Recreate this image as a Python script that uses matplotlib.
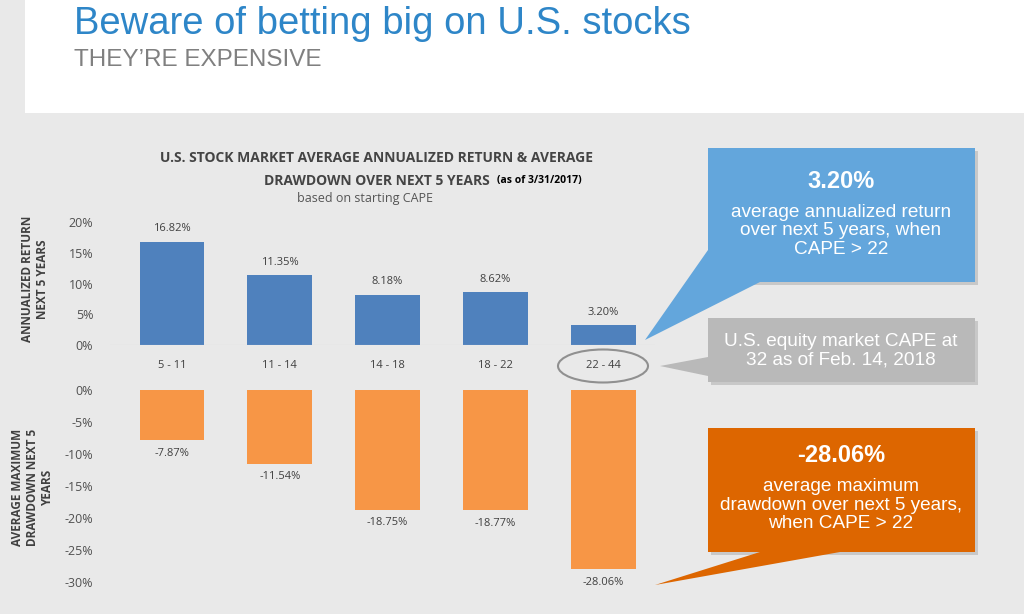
import matplotlib.pyplot as plt
from matplotlib.patches import Rectangle, Polygon, Ellipse

categories = ["5 - 11", "11 - 14", "14 - 18", "18 - 22", "22 - 44"]
returns = [16.82, 11.35, 8.18, 8.62, 3.20]
drawdowns = [-7.87, -11.54, -18.75, -18.77, -28.06]

W, H = 1024, 614
fig = plt.figure(figsize=(W / 100, H / 100), dpi=100)
fig.patch.set_facecolor("#e9e9e9")
plt.rcParams["font.family"] = ["Open Sans", "DejaVu Sans"]


def box(x0, y0, x1, y1):
    # pixel box (top-left origin) -> figure fraction rect
    return [x0 / W, 1 - y1 / H, (x1 - x0) / W, (y1 - y0) / H]


def fx(x):
    return x / W


def fy(y):
    return 1 - y / H


# white header
fig.patches.append(Rectangle((fx(25), fy(113)), fx(999), 113 / H, transform=fig.transFigure,
                             facecolor="white", edgecolor="none", zorder=0))
fig.text(fx(74), fy(24), "Beware of betting big on U.S. stocks", fontsize=27.5, color="#2e86c8",
         va="center", family=["Liberation Sans", "DejaVu Sans"])
fig.text(fx(74), fy(60), "THEY\u2019RE EXPENSIVE", fontsize=17.5, color="#808080",
         va="center", family=["Liberation Sans", "DejaVu Sans"])

# chart titles
fig.text(fx(377), fy(158), "U.S. STOCK MARKET AVERAGE ANNUALIZED RETURN & AVERAGE",
         fontsize=10, weight="bold", color="#444444", ha="center", va="center")
fig.text(fx(490), fy(181), "DRAWDOWN OVER NEXT 5 YEARS", fontsize=10, weight="bold",
         color="#444444", ha="right", va="center")
fig.text(fx(497), fy(181), "(as of 3/31/2017)", fontsize=7.5, weight="bold",
         color="black", ha="left", va="center")
fig.text(fx(365), fy(199), "based on starting CAPE", fontsize=9, color="#555555",
         ha="center", va="center")

x = list(range(len(categories)))
xl = (-0.575, 4.48)

ax1 = fig.add_axes(box(110, 213, 655, 345))
ax1.bar(x, returns, width=0.6, color="#4f81bd")
ax1.set_xlim(xl)
ax1.set_ylim(0, 21.5)
ax1.set_yticks([0, 5, 10, 15, 20])
ax1.set_yticklabels(["0%", "5%", "10%", "15%", "20%"])
for i, v in enumerate(returns):
    ax1.text(i, v + 1.2, f"{v:.2f}%", ha="center", va="bottom", fontsize=8, color="#404040")
ax1.set_ylabel("ANNUALIZED RETURN\nNEXT 5 YEARS", fontsize=8.5, weight="bold", color="#404040",
               labelpad=14)
ax1.set_xticks([])

ax2 = fig.add_axes(box(110, 387, 655, 588))
ax2.bar(x, drawdowns, width=0.6, color="#f79646")
ax2.set_xlim(xl)
ax2.set_ylim(-31, 0.5)
ax2.set_yticks([0, -5, -10, -15, -20, -25, -30])
ax2.set_yticklabels(["0%", "-5%", "-10%", "-15%", "-20%", "-25%", "-30%"])
for i, v in enumerate(drawdowns):
    ax2.text(i, v - 1.2, f"{v:.2f}%", ha="center", va="top", fontsize=8, color="#404040")
ax2.set_ylabel("AVERAGE MAXIMUM\nDRAWDOWN NEXT 5\nYEARS", fontsize=8.5, weight="bold", color="#404040",
               labelpad=8)
ax2.set_xticks([])

for ax in (ax1, ax2):
    ax.set_facecolor("none")
    for s in ax.spines.values():
        s.set_visible(False)
    ax.tick_params(length=0, labelsize=9, labelcolor="#505050", pad=12)
ax1.axhline(0, color="#d0d0d0", lw=0.8)

# category labels between panels
for i, c in enumerate(categories):
    xp = 110 + (i - xl[0]) / (xl[1] - xl[0]) * 545
    fig.text(fx(xp), fy(366), c, ha="center", va="center", fontsize=8, color="#404040")
fig.patches.append(Ellipse((fx(603), fy(366)), 90 / W, 33 / H, transform=fig.transFigure,
                           facecolor="none", edgecolor="#909090", lw=1.5))


def callout(x0, y0, x1, y1, tri, color):
    fig.patches.append(Rectangle((fx(x0 + 3), fy(y1 + 3)), (x1 - x0) / W, (y1 - y0) / H,
                                 transform=fig.transFigure, facecolor="#c8c8c8",
                                 edgecolor="none", zorder=1))
    fig.patches.append(Polygon([(fx(a), fy(b)) for a, b in tri], closed=True,
                               transform=fig.transFigure, facecolor=color, edgecolor="none", zorder=2))
    fig.patches.append(Rectangle((fx(x0), fy(y1)), (x1 - x0) / W, (y1 - y0) / H,
                                 transform=fig.transFigure, facecolor=color,
                                 edgecolor="none", zorder=2))


callout(708, 148, 975, 282, [(708, 250), (708, 282), (760, 282), (645, 340)], "#63a6dc")
callout(708, 318, 975, 382, [(708, 357), (708, 376), (660, 366)], "#b9b9b9")
callout(708, 428, 975, 552, [(760, 552), (840, 552), (655, 585)], "#dd6600")

fs = dict(ha="center", va="center", color="white", family=["Liberation Sans", "DejaVu Sans"])
fig.text(fx(841), fy(182), "3.20%", fontsize=17, weight="bold", **fs, zorder=3)
fig.text(fx(841), fy(231), "average annualized return\nover next 5 years, when\nCAPE > 22",
         fontsize=13.7, linespacing=1.1, **fs, zorder=3)
fig.text(fx(841), fy(351), "U.S. equity market CAPE at\n32 as of Feb. 14, 2018",
         fontsize=13.7, linespacing=1.1, **fs, zorder=3)
fig.text(fx(841), fy(456), "-28.06%", fontsize=17, weight="bold", **fs, zorder=3)
fig.text(fx(841), fy(505), "average maximum\ndrawdown over next 5 years,\nwhen CAPE > 22",
         fontsize=13.7, linespacing=1.1, **fs, zorder=3)

fig.savefig("out.png", dpi=100, facecolor=fig.get_facecolor())
